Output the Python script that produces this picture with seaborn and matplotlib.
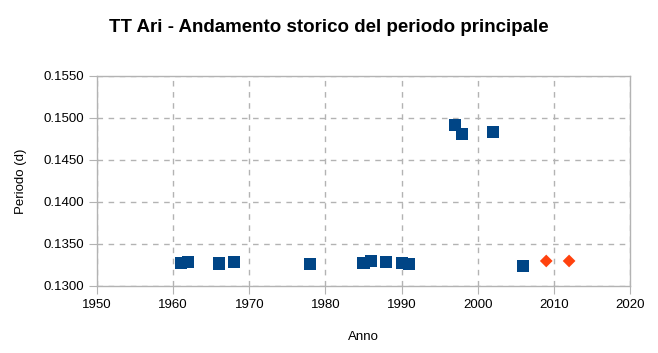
import matplotlib
matplotlib.use('Agg')
import matplotlib.pyplot as plt
import seaborn as sns
import pandas as pd

# storico (blu) e nuove misure (arancio)
anni_storici = [1961, 1962, 1966, 1968, 1978, 1985, 1986, 1988, 1990, 1991,
                1997, 1998, 2002, 2006]
periodi_storici = [0.13277, 0.13288, 0.13268, 0.13288, 0.13264, 0.13276, 0.13300,
                   0.13288, 0.13276, 0.13264, 0.14919, 0.14806, 0.14836, 0.13234]
anni_nuovi = [2009, 2012]
periodi_nuovi = [0.13298, 0.13298]

x_ticks = [1950, 1960, 1970, 1980, 1990, 2000, 2010, 2020]
y_ticks = [0.1300, 0.1350, 0.1400, 0.1450, 0.1500, 0.1550]

sns.set_style('white')
plt.rcParams['font.family'] = ['Liberation Sans', 'DejaVu Sans']

storico = pd.DataFrame({'anno': anni_storici, 'periodo': periodi_storici})
nuovi = pd.DataFrame({'anno': anni_nuovi, 'periodo': periodi_nuovi})

fig = plt.figure(figsize=(6.58, 3.53), dpi=100)
ax = fig.add_axes([97 / 658, 1 - 286 / 353, 533 / 658, 210 / 353])

sns.scatterplot(data=storico, x='anno', y='periodo', ax=ax, marker='s', s=75,
                color='#004586', edgecolor='none', zorder=3)
sns.scatterplot(data=nuovi, x='anno', y='periodo', ax=ax, marker='D', s=42,
                color='#ff420e', edgecolor='none', zorder=3)

ax.set_xlim(1950, 2020)
ax.set_ylim(0.1300, 0.1550)
ax.set_xticks(x_ticks)
ax.set_yticks(y_ticks)
ax.set_yticklabels([f'{v:.4f}' for v in y_ticks])
ax.grid(True, color='#b3b3b3', linestyle=(0, (4, 4)), linewidth=1)
ax.set_axisbelow(True)
for side in ['top', 'right', 'left', 'bottom']:
    ax.spines[side].set_color('#b3b3b3')
    ax.spines[side].set_linewidth(1)
ax.tick_params(axis='both', direction='out', length=6, color='#b3b3b3',
               labelsize=9.5, labelcolor='black', pad=3, left=True, bottom=True)
ax.set_xlabel('Anno', fontsize=9.5, labelpad=15, color='black')
ax.set_ylabel('Periodo (d)', fontsize=9.5, labelpad=12, color='black')

fig.text(329 / 658, 1 - 28 / 353, 'TT Ari - Andamento storico del periodo principale',
         ha='center', va='center', fontsize=13.5, fontweight='bold', color='black')

fig.savefig('out.png', dpi=100)
